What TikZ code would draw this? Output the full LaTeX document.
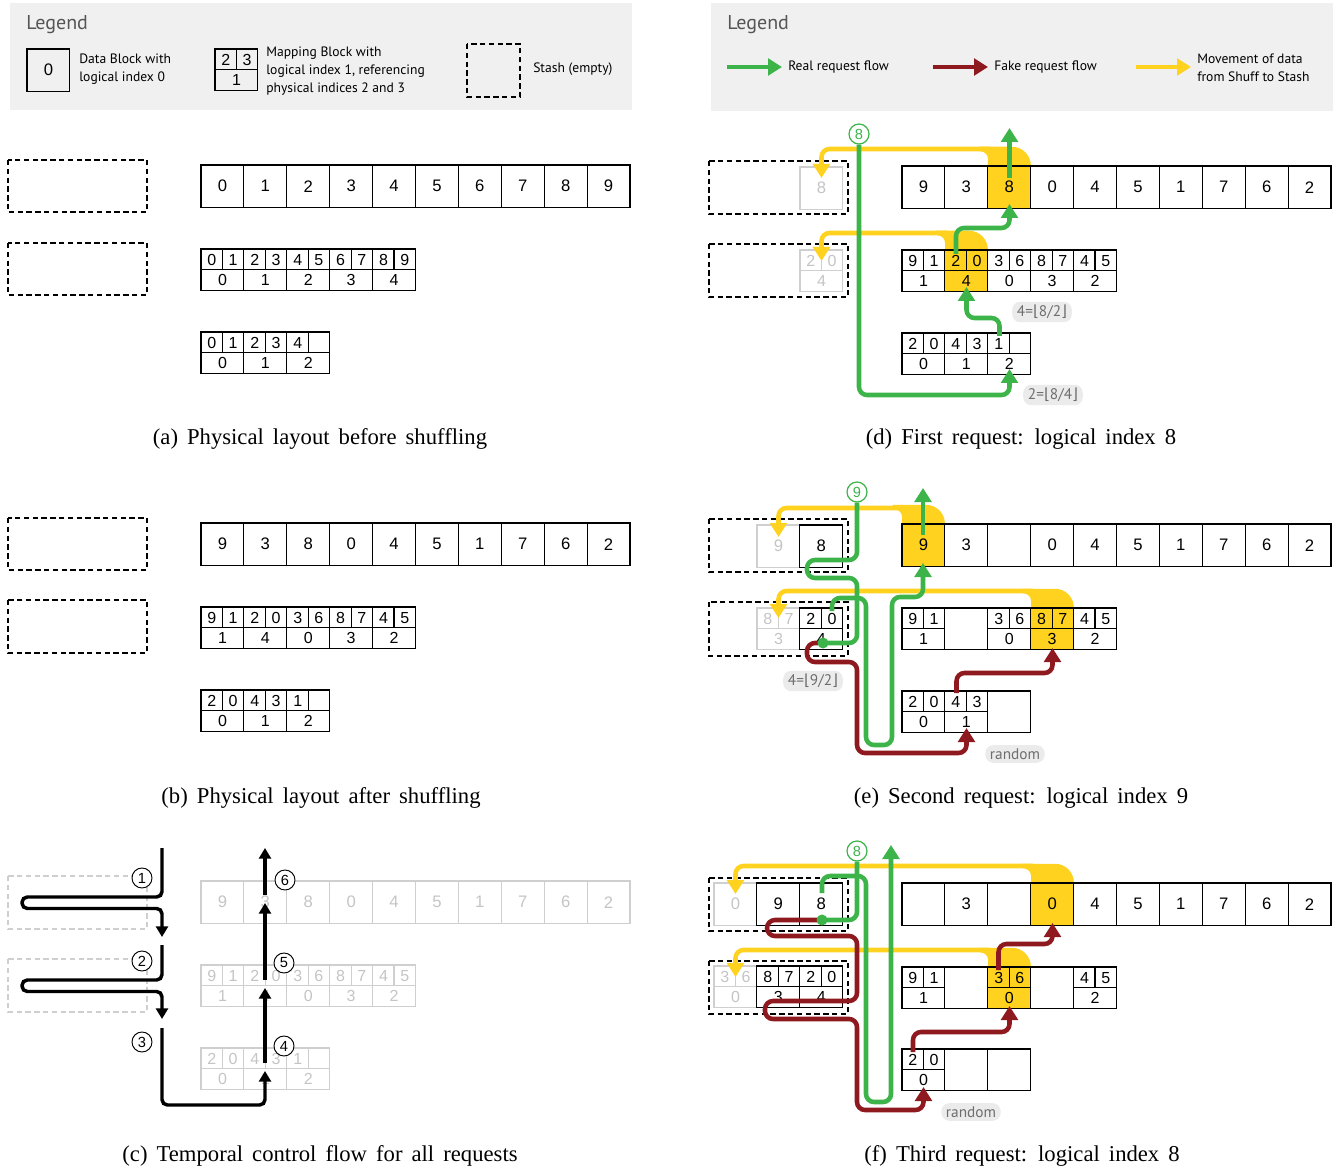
\documentclass[tikz,border=0pt]{standalone}
\usepackage{fontspec}
\setmainfont{Liberation Serif}
\newfontfamily\numf{Liberation Sans}
\newfontfamily\legf{PT Sans}
\newfontfamily\symf{DejaVu Sans}
\usetikzlibrary{arrows.meta}
\definecolor{grn}{HTML}{3CB44A}
\definecolor{rd}{HTML}{8E1A1F}
\definecolor{yel}{HTML}{FFD21F}
\definecolor{legbg}{HTML}{F0F0F0}
\definecolor{lg}{HTML}{CFCFCF}
\definecolor{lgt}{HTML}{C4C4C4}
\definecolor{tagbg}{HTML}{EBEBEB}
\definecolor{tagtx}{HTML}{6E6E6E}
\definecolor{legtx}{HTML}{555555}
\newcommand\capfont{\fontsize{17}{20}\selectfont\spaceskip=0.4em\relax}

\newcommand\DRow[4]{%
  \foreach \tx/\ps [count=\ii from 0] in {#4}{%
    \pgfmathsetmacro\xl{#2+\ii*42.9}%
    \draw[c\ps] (\xl,#3) rectangle ++(42.9,42.5);
    \node[t\ps] (#1-\ii) at (\xl+21.45,#3+21.25) {\tx};
  }}
\newcommand\MRow[4]{%
  \foreach \pa/\pb/\pc/\ps [count=\ii from 0] in {#4}{%
    \pgfmathsetmacro\xl{#2+\ii*42.9}%
    \draw[c\ps] (\xl,#3) rectangle ++(42.9,41.5);
    \draw[ln\ps] (\xl,#3+20.75) -- ++(42.9,0) (\xl+21.45,#3) -- ++(0,20.75);
    \node[m\ps] (#1-\ii a) at (\xl+10.9,#3+10.6) {\pa};
    \node[m\ps] (#1-\ii b) at (\xl+32.1,#3+10.6) {\pb};
    \node[m\ps] (#1-\ii c) at (\xl+21.45,#3+31.3) {\pc};
  }}
% funnel: #1 left x of cell, #2 cell top
\newcommand\Funnel[2]{%
  \fill[yel] (#1-9,#2-19.25) -- (#1+42.9-19,#2-19.25)
     .. controls (#1+42.9-8.5,#2-19.25) and (#1+42.9,#2-10.75) .. (#1+42.9,#2-0.25)
     -- (#1+42.9,#2+1) -- (#1,#2+1) -- (#1,#2-7)
     .. controls (#1,#2-11.5) and (#1-3.5,#2-14.75) .. (#1-8,#2-14.75) -- cycle;}

\begin{document}
\begin{tikzpicture}[x=0.75pt,y=-0.75pt,
  cn/.style={draw=black,line width=0.85pt},
  cy/.style={draw=black,fill=yel,line width=0.85pt},
  cg/.style={draw=lg,line width=0.85pt},
  cb/.style={draw=black,line width=0.85pt},
  lnn/.style={draw=black,line width=0.85pt},
  lny/.style={draw=black,line width=0.85pt},
  lng/.style={draw=lg,line width=0.85pt},
  lnb/.style={draw=none},
  tn/.style={font=\numf\fontsize{12.5}{14}\selectfont,inner sep=0pt},
  ty/.style={tn}, tb/.style={tn},
  tg/.style={tn,text=lgt},
  mn/.style={font=\numf\fontsize{12}{13}\selectfont,inner sep=0pt},
  my/.style={mn}, mb/.style={mn}, mg/.style={mn,text=lgt},
  stash/.style={draw=black,line width=1pt,dash pattern=on 4pt off 2.6pt},
  gstash/.style={draw=lg,line width=1pt,dash pattern=on 4pt off 2.6pt},
  legtitle/.style={font=\legf\fontsize{15}{17}\selectfont,text=legtx,anchor=west,inner sep=0pt},
  legtext/.style={font=\legf\fontsize{10.2}{13.4}\selectfont,align=left,anchor=west,inner sep=0pt},
  capst/.style={font=\capfont,inner sep=0pt},
  gr/.style={draw=grn,line width=3.4pt,rounded corners=6pt,-{Triangle[width=12.5pt,length=10.5pt]}},
  grn0/.style={draw=grn,line width=3.4pt,rounded corners=6pt},
  rdl/.style={draw=rd,line width=3.4pt,rounded corners=6pt,-{Triangle[width=12.5pt,length=10.5pt]}},
  yl/.style={draw=yel,line width=3.4pt,rounded corners=6pt,-{Triangle[width=12.5pt,length=10.5pt]}},
  bk/.style={draw=black,line width=2.6pt,rounded corners=4pt,-{Triangle[width=9pt,length=8pt]}},
  gcirc/.style={circle,draw=grn,fill=white,line width=0.9pt,inner sep=0pt,minimum size=15pt,text=grn,font=\numf\fontsize{11}{11}\selectfont},
  kcirc/.style={circle,draw=black,fill=white,line width=0.7pt,inner sep=0pt,minimum size=15pt,font=\numf\fontsize{11}{11}\selectfont},
  tagst/.style={fill=tagbg,rounded corners=6pt,text=tagtx,font=\legf\fontsize{11.5}{13}\selectfont,inner xsep=3.5pt,inner ysep=2.5pt},
  gdot/.style={fill=grn}
]
\useasboundingbox (0,0) rectangle (1338,1169);

% ---------------- legends ----------------
\fill[legbg] (10,3) rectangle (632,110);
\node[legtitle] (ltitle1) at (26,25) {Legend};
\DRow{lgd}{27}{49}{0/n}
\node[legtext] (ltxt1) at (79,69) {Data Block with\\logical index 0};
\MRow{lgm}{215}{49}{2/3/1/n}
\node[legtext] (ltxt2) at (266,71) {Mapping Block with\\logical index 1, referencing\\physical indices 2 and 3};
\draw[stash] (467,44) rectangle (520,97);
\node[legtext] (ltxt3) at (533,69.5) {Stash (empty)};

\fill[legbg] (711,3) rectangle (1333,111);
\node[legtitle] (ltitle2) at (727,25) {Legend};
\coordinate (lga) at (727,67); \coordinate (lgb) at (782,67);
\coordinate (lra) at (933,67); \coordinate (lrb) at (988,67);
\coordinate (lya) at (1136,67); \coordinate (lyb) at (1191,67);
\draw[gr] (lga) -- (lgb);
\draw[rdl] (lra) -- (lrb);
\draw[yl] (lya) -- (lyb);
\node[legtext] (ltxt4) at (788,67.5) {Real request flow};
\node[legtext] (ltxt5) at (994,67.5) {Fake request flow};
\node[legtext] (ltxt6) at (1197,68) {Movement of data\\from Shuff to Stash};

% ---------------- panel (a) ----------------
\draw[stash] (8,160) rectangle (147,212);
\draw[stash] (8,243) rectangle (147,295);
\DRow{a1}{201}{165}{0/n,1/n,2/n,3/n,4/n,5/n,6/n,7/n,8/n,9/n}
\MRow{a2}{201}{249}{0/1/0/n,2/3/1/n,4/5/2/n,6/7/3/n,8/9/4/n}
\MRow{a3}{201}{332}{0/1/0/n,2/3/1/n,4//2/n}
\node[capst] (capa) at (320,439) {(a) Physical layout before shuffling};

% ---------------- panel (b) ----------------
\draw[stash] (8,518) rectangle (147,570);
\draw[stash] (8,600) rectangle (147,653);
\DRow{b1}{201}{523}{9/n,3/n,8/n,0/n,4/n,5/n,1/n,7/n,6/n,2/n}
\MRow{b2}{201}{607}{9/1/1/n,2/0/4/n,3/6/0/n,8/7/3/n,4/5/2/n}
\MRow{b3}{201}{690}{2/0/0/n,4/3/1/n,1//2/n}
\node[capst] (capb) at (321,798) {(b) Physical layout after shuffling};

% ---------------- panel (c) ----------------
\draw[gstash] (8,876) rectangle (147,929);
\draw[gstash] (8,959) rectangle (147,1012);
\DRow{c1}{201}{881}{9/g,3/g,8/g,0/g,4/g,5/g,1/g,7/g,6/g,2/g}
\MRow{c2}{201}{965}{9/1/1/g,2/0/4/g,3/6/0/g,8/7/3/g,4/5/2/g}
\MRow{c3}{201}{1048}{2/0/0/g,4/3/1/g,1//2/g}
\draw[bk] (162,848) -- (162,897) -- (22,897) -- (22,908.5) -- (162,908.5) -- (162,937);
\draw[bk] (162,945) -- (162,980) -- (22,980) -- (22,991.5) -- (162,991.5) -- (162,1019);
\draw[bk] (162,1028) -- (162,1105) -- (265,1105) -- (265,1071);
\draw[bk] (265,1063) -- (265,988);
\draw[bk] (265,980) -- (265,903);
\draw[bk] (265,895) -- (265,848);
\node[kcirc] (k1) at (142,878) {1};
\node[kcirc] (k2) at (142,961) {2};
\node[kcirc] (k3) at (142,1042) {3};
\node[kcirc] (k4) at (284,1046) {4};
\node[kcirc] (k5) at (284,963) {5};
\node[kcirc] (k6) at (285,880) {6};
\node[capst] (capc) at (320,1156) {(c) Temporal control flow for all requests};

% ---------------- panel (d) ----------------
\Funnel{988}{166}
\Funnel{945}{250}
\draw[stash] (709,161) rectangle (848,214);
\draw[stash] (709,244) rectangle (848,297);
\DRow{ds1}{800}{167}{8/g}
\MRow{ds2}{800}{250}{2/0/4/g}
\DRow{d1}{902}{166}{9/n,3/n,8/y,0/n,4/n,5/n,1/n,7/n,6/n,2/n}
\MRow{d2}{902}{250}{9/1/1/n,2/0/4/y,3/6/0/n,8/7/3/n,4/5/2/n}
\MRow{d3}{902}{333}{2/0/0/n,4/3/1/n,1//2/n}
\draw[yl] (990,149) -- (821.5,149) -- (821.5,178);
\draw[yl] (947,233) -- (821.5,233) -- (821.5,261);
\node[gcirc] (cd) at (859,134) {8};
\draw[gr] (cd.south) -- (859,395) -- (1009.5,395) -- (1009.5,369);
\draw[gr] (999.5,336) -- (999.5,318) -- (966.5,318) -- (966.5,287);
\draw[gr] (956,254) -- (956,228) -- (1009.5,228) -- (1009.5,204);
\draw[gr] (1009.5,178) -- (1009.5,128);
\node[tagst] (td1) at (1042,312) {4={\symf ⌊}8/2{\symf ⌋}};
\node[tagst] (td2) at (1053,395) {2={\symf ⌊}8/4{\symf ⌋}};
\node[capst] (capd) at (1021,439) {(d) First request: logical index 8};

% ---------------- panel (e) ----------------
\Funnel{902}{524}
\Funnel{1031}{608}
\draw[stash] (709,519) rectangle (848,572);
\draw[stash] (709,602) rectangle (848,656);
\DRow{es1}{757}{525}{9/g,8/n}
\MRow{es2}{757}{608}{8/7/3/g,2/0/4/n}
\DRow{e1}{902}{524}{9/y,3/n,/n,0/n,4/n,5/n,1/n,7/n,6/n,2/n}
\MRow{e2}{902}{608}{9/1/1/n,///b,3/6/0/n,8/7/3/y,4/5/2/n}
\MRow{e3}{902}{691}{2/0/0/n,4/3/1/n,///b}
\draw[yl] (904,508) -- (778.5,508) -- (778.5,537);
\draw[yl] (1033,591) -- (778.5,591) -- (778.5,618);
\draw[rdl] (818,643) -- (807,643) -- (807,662) -- (857,662) -- (857,753) -- (966.5,753) -- (966.5,728);
\draw[rdl] (956.5,693) -- (956.5,673) -- (1052.5,673) -- (1052.5,648);
\node[gcirc] (ce) at (857,492) {9};
\draw[grn0] (ce.south) -- (857,560) -- (807,560) -- (807,578) -- (857,578) -- (857,643) -- (823,643);
\fill[gdot] (823,643) circle[radius=5.5];
\draw[gr] (832,611) -- (832,598) -- (866,598) -- (866,745) -- (892,745) -- (892,597) -- (923,597) -- (923,563);
\draw[gr] (923,535) -- (923,488);
\node[tagst] (te1) at (813,681) {4={\symf ⌊}9/2{\symf ⌋}};
\node[tagst] (te2) at (1015,754) {random};
\node[capst] (cape) at (1021,798) {(e) Second request: logical index 9};

% ---------------- panel (f) ----------------
\Funnel{1031}{883}
\Funnel{988}{967}
\draw[stash] (709,878) rectangle (848,931);
\draw[stash] (709,961) rectangle (848,1014);
\DRow{fs1}{714}{883}{0/g,9/n,8/n}
\MRow{fs2}{714}{966}{3/6/0/g,8/7/3/n,2/0/4/n}
\DRow{f1}{902}{883}{/n,3/n,/n,0/y,4/n,5/n,1/n,7/n,6/n,2/n}
\MRow{f2}{902}{967}{9/1/1/n,///b,3/6/0/y,///b,4/5/2/n}
\MRow{f3}{902}{1049}{2/0/0/n,///b,///b}
\draw[yl] (1033,866) -- (735.5,866) -- (735.5,894);
\draw[yl] (990,950) -- (735.5,950) -- (735.5,977);
\draw[rdl] (822,920) -- (767,920) -- (767,936) -- (857,936) -- (857,1001) -- (765,1001) -- (765,1019) -- (857,1019) -- (857,1110) -- (923.5,1110) -- (923.5,1087);
\draw[rdl] (913,1052) -- (913,1032) -- (1009.5,1032) -- (1009.5,1006);
\draw[rdl] (998.5,970) -- (998.5,944) -- (1052.5,944) -- (1052.5,923);
\node[gcirc] (cf) at (857,851) {8};
\draw[grn0] (cf.south) -- (857,920) -- (822,920);
\fill[gdot] (822,920) circle[radius=5.5];
\draw[gr] (822,893) -- (822,876) -- (866,876) -- (866,1102) -- (891,1102) -- (891,845);
\node[tagst] (tf1) at (971,1112) {random};
\node[capst] (capf) at (1022,1156) {(f) Third request: logical index 8};
\end{tikzpicture}
\end{document}
